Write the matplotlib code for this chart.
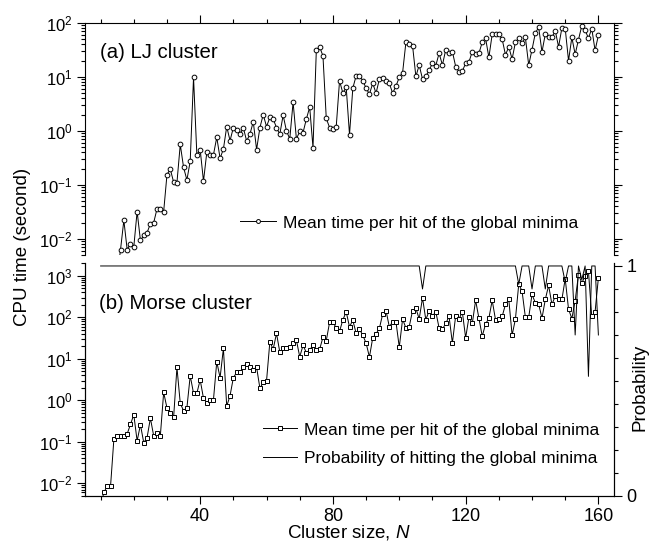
import numpy as np
import matplotlib
matplotlib.use("Agg")
import matplotlib.pyplot as plt
from matplotlib.lines import Line2D
from matplotlib.ticker import LogLocator, MultipleLocator, FixedLocator, NullFormatter

plt.rcParams['font.family'] = ['Liberation Sans', 'DejaVu Sans']
plt.rcParams['mathtext.fontset'] = 'custom'
plt.rcParams['mathtext.rm'] = 'Liberation Sans'
plt.rcParams['mathtext.it'] = 'Liberation Sans:italic'

# (a) LJ cluster, N = 15..160 (N=15 lies below the axis)
lj_n = list(range(15, 161))
lj_time = [
    0.002, 0.0063, 0.022, 0.0063, 0.0081, 0.0071,                    # 15-20
    0.032, 0.0093, 0.0115, 0.013, 0.019, 0.020, 0.036, 0.035, 0.032, 0.155,  # 21-30
    0.195, 0.112, 0.110, 0.56, 0.21, 0.123, 0.275, 9.8, 0.36, 0.45,   # 31-40
    0.117, 0.40, 0.35, 0.36, 0.76, 0.31, 0.46, 1.2, 0.66, 1.15,       # 41-50
    1.05, 0.87, 1.15, 0.65, 0.87, 1.48, 0.45, 1.15, 2.0, 1.2,         # 51-60
    1.78, 1.66, 1.15, 0.87, 1.95, 1.0, 0.71, 3.4, 0.71, 0.98,         # 61-70
    0.93, 1.66, 2.75, 0.49, 31, 36, 24.5, 1.7, 1.15, 1.07,            # 71-80
    1.2, 8.5, 5.0, 6.5, 0.85, 6.2, 10.5, 10.5, 8.5, 6.2,              # 81-90
    4.8, 7.6, 5.0, 9.1, 9.5, 8.5, 7.6, 5.0, 6.8, 9.8,                 # 91-100
    12, 44, 40, 38, 10.2, 16.6, 9.1, 10.2, 13.5, 17.8,                # 101-110
    16.2, 27.5, 16.6, 32, 27.5, 29.5, 15.5, 12.6, 12.9, 17.8,         # 111-120
    19, 29.5, 26.3, 27.5, 44, 52, 23, 62, 62, 62,                     # 121-130
    50, 25.7, 36, 21.4, 44, 52, 42, 54, 16.6, 32,                     # 131-140
    65, 83, 29, 62, 56, 54, 72, 36, 81, 79,                           # 141-150
    20, 54, 26.3, 49, 89, 74, 52, 79, 31, 59,                         # 151-160
]

# (b) Morse cluster, N = 10..160 (N=10 lies below the axis)
morse_n = list(range(10, 161))
morse_time = [
    0.003,                                                            # 10
    0.006, 0.0087, 0.0087, 0.117, 0.135, 0.141, 0.141, 0.155, 0.263, 0.45,  # 11-20
    0.105, 0.257, 0.095, 0.126, 0.37, 0.138, 0.166, 0.141, 1.55, 0.65,      # 21-30
    0.49, 0.39, 6.2, 0.85, 0.56, 0.66, 3.9, 1.48, 1.48, 3.1,          # 31-40
    1.12, 0.87, 1.02, 1.02, 8.5, 3.5, 17.8, 0.72, 1.29, 3.5,          # 41-50
    4.7, 4.7, 6.5, 7.6, 6.3, 5.4, 6.3, 1.95, 2.7, 2.95,               # 51-60
    25.7, 17, 41, 14.5, 17.8, 18.6, 19, 23.4, 28, 11.2,               # 61-70
    21, 14.1, 16.2, 21.4, 16.2, 17, 33, 27.5, 76, 78,                 # 71-80
    55, 46, 87, 135, 59, 85, 41, 52, 37, 24,                          # 81-90
    11, 32, 40, 54, 120, 145, 59, 78, 78, 19,                         # 91-100
    91, 55, 60, 145, 165, 91, 295, 87, 145, 105,                      # 101-110
    138, 55, 52, 71, 105, 24, 110, 91, 135, 32,                       # 111-120
    102, 71, 257, 95, 35, 69, 95, 257, 87, 91,                        # 121-130
    105, 204, 269, 37, 91, 630, 427, 100, 100, 355,                   # 131-140
    224, 209, 95, 269, 589, 204, 324, 282, 269, 851,                  # 141-150
    158, 93, 251, 1070, 676, 977, 1290, 105, 135, 891,                # 151-160
]
morse_prob = [
    1.0,                                                              # 10
    1, 1, 1, 1, 1, 1, 1, 1, 1, 1,                                     # 11-20
    1, 1, 1, 1, 1, 1, 1, 1, 1, 1,                                     # 21-30
    1, 1, 1, 1, 1, 1, 1, 1, 1, 1,                                     # 31-40
    1, 1, 1, 1, 1, 1, 1, 1, 1, 1,                                     # 41-50
    1, 1, 1, 1, 1, 1, 1, 1, 1, 1,                                     # 51-60
    1, 1, 1, 1, 1, 1, 1, 1, 1, 1,                                     # 61-70
    1, 1, 1, 1, 1, 1, 1, 1, 1, 1,                                     # 71-80
    1, 1, 1, 1, 1, 1, 1, 1, 1, 1,                                     # 81-90
    1, 1, 1, 1, 1, 1, 1, 1, 1, 1,                                     # 91-100
    1, 1, 1, 1, 1, 1, 0.90, 1, 1, 1,                                  # 101-110
    1, 1, 1, 1, 1, 1, 1, 1, 1, 1,                                     # 111-120
    1, 1, 1, 1, 1, 1, 1, 1, 1, 1,                                     # 121-130
    1, 1, 1, 1, 1, 0.92, 1, 1, 1, 0.90,                               # 131-140
    1, 1, 1, 0.90, 1, 1, 1, 1, 1, 0.93,                               # 141-150
    1, 1, 0.70, 1, 0.94, 1, 0.52, 1, 1, 0.70,                         # 151-160
]

lab_time = 'Mean time per hit of the global minima'
lab_prob = 'Probability of hitting the global minima'

fig = plt.figure(figsize=(6.52, 5.42), dpi=100)
ax1 = fig.add_axes([0.1304, 0.5295, 0.8113, 0.4281])
ax2 = fig.add_axes([0.1304, 0.0849, 0.8113, 0.4299])
ax3 = ax2.twinx()

lw = 0.7
ax1.plot(lj_n, lj_time, '-o', color='black', lw=lw, ms=3.4, mfc='white', mec='black', mew=0.7)
ax2.plot(morse_n, morse_time, '-s', color='black', lw=lw, ms=3.2, mfc='white', mec='black', mew=0.7)
ax3.plot(morse_n, morse_prob, '-', color='black', lw=lw)

for ax in (ax1, ax2):
    ax.set_yscale('log')
    ax.set_xlim(5.3, 164.7)
    ax.yaxis.set_major_locator(LogLocator(base=10, numticks=12))
    ax.yaxis.set_minor_locator(LogLocator(base=10, subs=np.arange(2, 10), numticks=12))
    ax.yaxis.set_minor_formatter(NullFormatter())
    ax.xaxis.set_major_locator(MultipleLocator(40))
    ax.xaxis.set_minor_locator(MultipleLocator(10))
    ax.tick_params(which='both', direction='out', width=0.8, labelsize=12)
    ax.tick_params(which='major', length=5.5)
    ax.tick_params(which='minor', length=3)
    for s in ax.spines.values():
        s.set_linewidth(0.8)

ax1.set_ylim(5e-3, 100)
ax2.set_ylim(4.94e-3, 2.04e3)
ax3.set_ylim(0, 1.013)
ax3.set_xlim(5.3, 164.7)

ax1.spines['bottom'].set_visible(False)
ax1.tick_params(axis='x', which='both', bottom=False, labelbottom=False, top=True)
ax1.tick_params(axis='y', which='both', right=True)

ax2.spines['top'].set_visible(False)
ax3.spines['top'].set_visible(False)
ax2.tick_params(axis='x', which='both', top=False, labelsize=13, pad=3)
ax3.yaxis.set_major_locator(FixedLocator([0, 1]))
ax3.yaxis.set_minor_locator(MultipleLocator(0.1))
ax3.tick_params(which='both', direction='out', width=0.8, labelsize=13)
ax3.tick_params(which='major', length=5.5)
ax3.tick_params(which='minor', length=3)
for s in ax3.spines.values():
    s.set_linewidth(0.8)

ax1.text(0.028, 0.871, '(a) LJ cluster', transform=ax1.transAxes, fontsize=14.7, va='center', ha='left')
ax2.text(0.026, 0.828, '(b) Morse cluster', transform=ax2.transAxes, fontsize=14.7, va='center', ha='left')

h1 = Line2D([], [], color='black', lw=lw, marker='o', ms=2.8, mfc='white', mec='black', mew=0.7)
ax1.legend([h1], [lab_time], loc='center left', bbox_to_anchor=(0.293, 0.138), frameon=False,
           fontsize=12.5, handlelength=2.1, handletextpad=0.35, borderpad=0, borderaxespad=0,
           numpoints=1)

h2 = Line2D([], [], color='black', lw=lw, marker='s', ms=2.8, mfc='white', mec='black', mew=0.7)
h3 = Line2D([], [], color='black', lw=lw)
ax3.legend([h2, h3], [lab_time, lab_prob], loc='center left', bbox_to_anchor=(0.336, 0.223),
           frameon=False, fontsize=12.5, handlelength=2.0, handletextpad=0.35, borderpad=0,
           borderaxespad=0, labelspacing=0.75, numpoints=1)

fig.text(0.034, 0.544, 'CPU time (second)', rotation=90, fontsize=13.5, ha='center', va='center')
fig.text(0.982, 0.286, 'Probability', rotation=90, fontsize=13.5, ha='center', va='center')
fig.text(0.535, 0.0075, 'Cluster size, $N$', fontsize=13.5, ha='center', va='baseline')

fig.savefig('out.png', dpi=100)
